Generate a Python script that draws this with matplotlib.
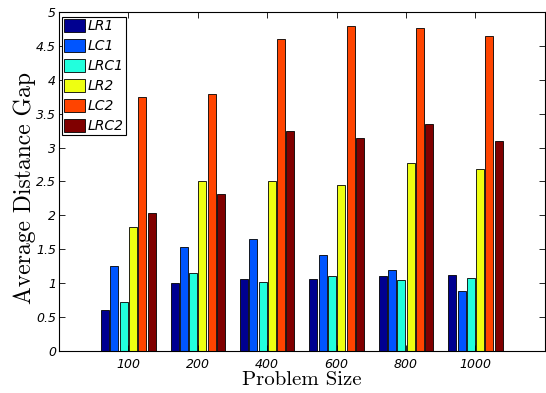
import numpy as np
import matplotlib.pyplot as plt

sizes = ['100', '200', '400', '600', '800', '1000']
series = ['LR1', 'LC1', 'LRC1', 'LR2', 'LC2', 'LRC2']
LR1 = [0.61, 1.00, 1.06, 1.06, 1.11, 1.12]
LC1 = [1.25, 1.54, 1.65, 1.42, 1.20, 0.89]
LRC1 = [0.72, 1.15, 1.02, 1.11, 1.04, 1.08]
LR2 = [1.83, 2.51, 2.50, 2.45, 2.77, 2.68]
LC2 = [3.74, 3.79, 4.60, 4.79, 4.76, 4.65]
LRC2 = [2.04, 2.31, 3.24, 3.14, 3.35, 3.09]
colors = ['#000090', '#0055FF', '#22FFDD', '#EEFF11', '#FF4400', '#800000']

fig = plt.figure(figsize=(5.46, 3.93), dpi=100)
ax = fig.add_axes([0.108, 0.107, 0.890, 0.8626])

x = np.arange(1, len(sizes) + 1)
slot = 0.134
for i, (name, vals) in enumerate(zip(series, [LR1, LC1, LRC1, LR2, LC2, LRC2])):
    ax.bar(x + (i - 2.5) * slot, vals, width=slot * 0.86, color=colors[i],
           edgecolor='black', linewidth=0.6, label=name)

ax.set_xlim(0, 7.0)
ax.set_ylim(0, 5)
ax.set_xticks(x)
ax.set_xticklabels(sizes, fontstyle='italic', fontsize=9)
ax.set_yticks(np.arange(0, 5.01, 0.5))
ax.set_yticklabels(['0', '0.5', '1', '1.5', '2', '2.5', '3', '3.5', '4', '4.5', '5'],
                   fontstyle='italic', fontsize=9)
ax.tick_params(direction='in', top=True, right=True, length=4, width=0.6, pad=2)
ax.tick_params(axis='x', pad=5)
for s in ax.spines.values():
    s.set_linewidth(0.8)

ax.set_xlabel('Problem Size', family='cmr10', fontsize=15, labelpad=0)
ax.set_ylabel('Average Distance Gap', family='cmr10', fontsize=17)
ax.yaxis.set_label_coords(-0.048, 0.48)

leg = ax.legend(loc='upper left', bbox_to_anchor=(0.0, 0.993), prop={'style': 'italic', 'size': 10},
                fancybox=False, edgecolor='black', framealpha=1, borderpad=0.15,
                labelspacing=0.43, handlelength=1.5, handleheight=1.0, handletextpad=0.2,
                borderaxespad=0.2)
leg.get_frame().set_linewidth(0.8)

fig.savefig('out.png', dpi=100)
